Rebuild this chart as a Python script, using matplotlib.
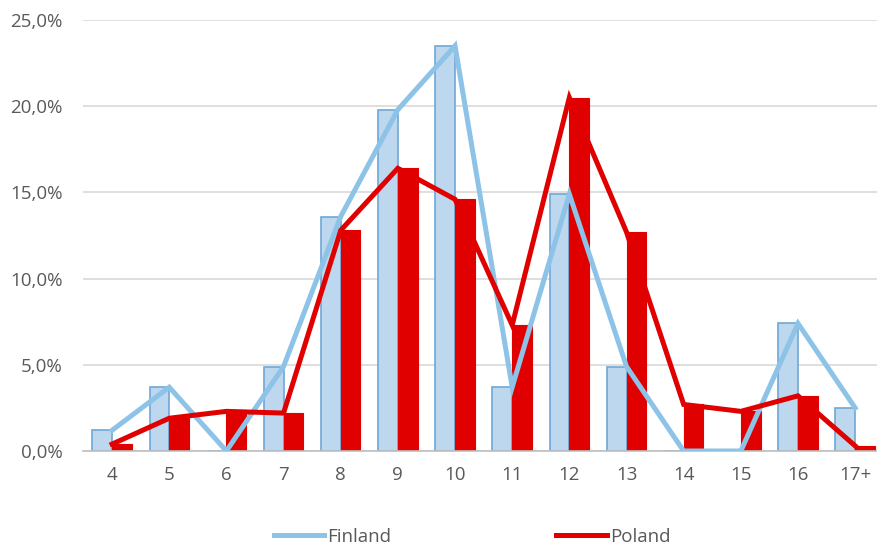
import matplotlib
matplotlib.use('Agg')
import matplotlib.pyplot as plt
import numpy as np
from matplotlib.ticker import FuncFormatter

# share of pupils by age group, in percent
ages = ["4", "5", "6", "7", "8", "9", "10", "11", "12", "13", "14", "15", "16", "17+"]
finland = [1.2, 3.7, 0.0, 4.9, 13.6, 19.8, 23.5, 3.7, 14.9, 4.9, 0.0, 0.0, 7.4, 2.5]
poland = [0.4, 1.9, 2.3, 2.2, 12.8, 16.4, 14.6, 7.3, 20.5, 12.7, 2.7, 2.3, 3.2, 0.3]

fin_fill = "#bdd7ee"
fin_edge = "#6fa8d6"
fin_line = "#8ec3e8"
pol_red = "#e00000"
grey_txt = "#595959"

plt.rcParams['font.family'] = ['Open Sans', 'DejaVu Sans']

fig = plt.figure(figsize=(8.78, 5.51), dpi=100)
ax = fig.add_axes([83.5 / 878, 100 / 551, (878 - 83.5) / 878, 431 / 551])

x = np.arange(len(ages))
w = 0.345
ax.bar(x - w / 2, finland, width=w, color=fin_fill, edgecolor=fin_edge, linewidth=1.2, zorder=2)
ax.bar(x + w / 2, poland, width=w, color=pol_red, edgecolor=pol_red, linewidth=0.8, zorder=2)
ax.plot(x, finland, color=fin_line, linewidth=3.6, solid_joinstyle='miter', zorder=3, label="Finland")
ax.plot(x, poland, color=pol_red, linewidth=3.6, solid_joinstyle='miter', zorder=4, label="Poland")

ax.set_xlim(-0.5, 13.4)
ax.set_ylim(0, 25)
ax.set_yticks(np.arange(0, 26, 5))
ax.yaxis.set_major_formatter(FuncFormatter(lambda v, p: f"{v:.1f}%".replace(".", ",")))
ax.set_xticks(x)
ax.set_xticklabels(ages)
ax.grid(axis='y', color="#d9d9d9", linewidth=1.2, zorder=0)
ax.set_axisbelow(True)
for s in ["top", "right", "left"]:
    ax.spines[s].set_visible(False)
ax.spines["bottom"].set_color("#bfbfbf")
ax.spines["bottom"].set_linewidth(1.2)
ax.tick_params(axis='both', length=0, labelsize=13.5, labelcolor=grey_txt)
ax.tick_params(axis='y', pad=15)
ax.tick_params(axis='x', pad=11)

fig.legend(loc="center", bbox_to_anchor=(472 / 878, 1 - 537 / 551), ncol=2, frameon=False,
           fontsize=13.5, handlelength=2.7, handletextpad=0.15, columnspacing=8.8,
           labelcolor=grey_txt)

fig.savefig("out.png", dpi=100)
